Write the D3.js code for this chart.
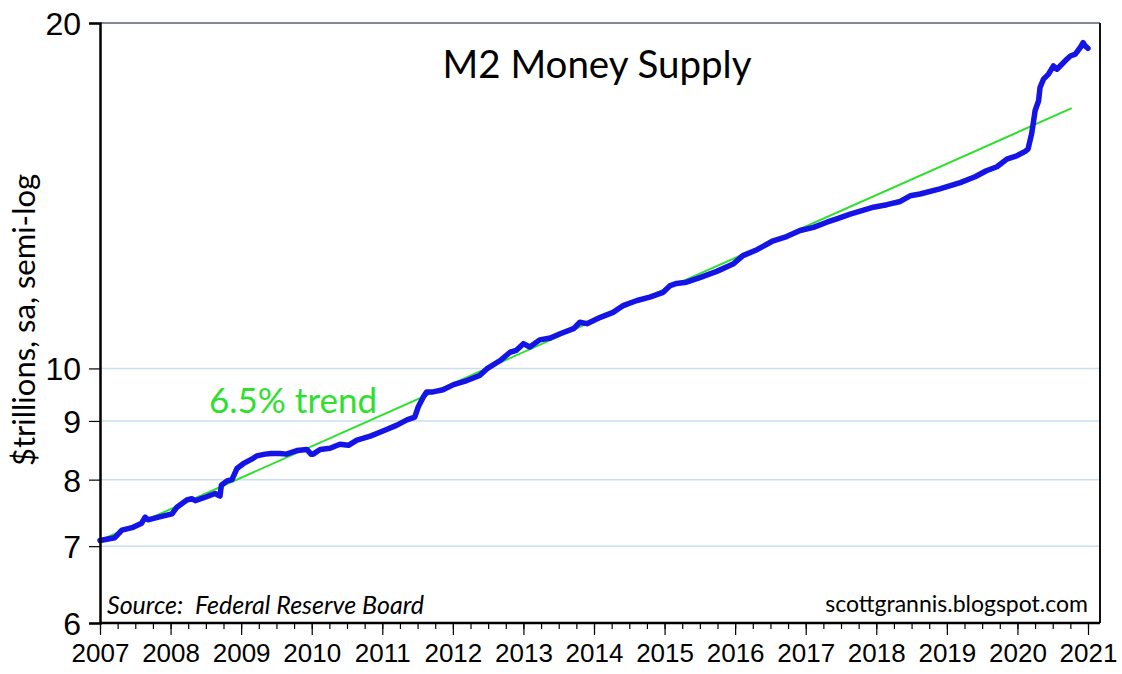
<!DOCTYPE html>
<html lang="en">
<head>
<meta charset="UTF-8">
<title>M2 Money Supply</title>
<script src="https://d3js.org/d3.v7.min.js"></script>
<style>
    body { margin: 0; background: #fff; }
    svg { display: block; font-family: 'Lato', sans-serif; }
    .tick text { fill: #000; }
</style>
</head>
<body>
<svg id="chart" width="1122" height="674"></svg>
<script>
// M2 weekly series ($ trillions)
const m2Years = [2007.00, 2007.21, 2007.31, 2007.47, 2007.59, 2007.64, 2007.68, 2007.83, 2008.02, 2008.09,
    2008.23, 2008.30, 2008.35, 2008.51, 2008.63, 2008.70, 2008.72, 2008.80, 2008.87, 2008.94,
    2009.03, 2009.17, 2009.22, 2009.34, 2009.43, 2009.55, 2009.64, 2009.79, 2009.93, 2009.99,
    2010.02, 2010.12, 2010.26, 2010.40, 2010.52, 2010.64, 2010.83, 2011.01, 2011.20, 2011.35,
    2011.46, 2011.51, 2011.58, 2011.63, 2011.72, 2011.86, 2012.01, 2012.20, 2012.38, 2012.48,
    2012.67, 2012.81, 2012.90, 2013.00, 2013.09, 2013.23, 2013.38, 2013.52, 2013.71, 2013.80,
    2013.90, 2014.09, 2014.27, 2014.42, 2014.61, 2014.79, 2014.98, 2015.08, 2015.17, 2015.31,
    2015.50, 2015.74, 2015.97, 2016.11, 2016.31, 2016.54, 2016.73, 2016.92, 2017.11, 2017.30,
    2017.44, 2017.63, 2017.82, 2017.96, 2018.15, 2018.34, 2018.48, 2018.62, 2018.90, 2019.19,
    2019.40, 2019.56, 2019.71, 2019.85, 2019.99, 2020.11, 2020.15, 2020.20, 2020.23, 2020.25,
    2020.30, 2020.32, 2020.37, 2020.44, 2020.51, 2020.56, 2020.63, 2020.70, 2020.75, 2020.82,
    2020.89, 2020.93, 2020.96, 2021.00];
const m2Values = [7.08, 7.12, 7.23, 7.27, 7.33, 7.42, 7.38, 7.42, 7.47, 7.57,
    7.68, 7.70, 7.67, 7.73, 7.78, 7.74, 7.91, 7.98, 8.00, 8.18,
    8.26, 8.35, 8.39, 8.42, 8.43, 8.43, 8.42, 8.48, 8.50, 8.42,
    8.42, 8.50, 8.52, 8.59, 8.57, 8.66, 8.73, 8.82, 8.92, 9.02,
    9.07, 9.26, 9.44, 9.54, 9.54, 9.58, 9.68, 9.76, 9.86, 9.99,
    10.16, 10.33, 10.37, 10.51, 10.44, 10.59, 10.63, 10.72, 10.83, 10.97,
    10.94, 11.08, 11.19, 11.35, 11.46, 11.54, 11.65, 11.81, 11.86, 11.89,
    12.00, 12.15, 12.33, 12.54, 12.69, 12.92, 13.03, 13.19, 13.27, 13.41,
    13.50, 13.63, 13.74, 13.82, 13.89, 13.98, 14.14, 14.19, 14.34, 14.52,
    14.69, 14.87, 14.99, 15.22, 15.32, 15.46, 15.53, 16.00, 16.44, 16.77,
    17.11, 17.57, 17.87, 18.05, 18.35, 18.23, 18.41, 18.60, 18.72, 18.79,
    19.04, 19.23, 19.10, 19.01];

// 6.5% trend line end points
const trendYears = [2007.00, 2020.77];
const trendValues = [7.08, 16.86];

const yTicks = [6, 7, 8, 9, 10, 20];
const gridTicks = [7, 8, 9, 10];
const xTicks = d3.range(2007, 2022);
const xMinor = d3.range(2007, 2021.01, 0.25);

const svg = d3.select("#chart");
const plotL = 100, plotR = 1100, plotT = 23, plotB = 623;

const x = d3.scaleLinear().domain([2007, 2021.17]).range([plotL, plotR]);
const y = d3.scaleLog().domain([6, 20]).range([plotB, plotT]);

// light blue gridlines
svg.append("g")
    .selectAll("line")
    .data(gridTicks)
    .join("line")
    .attr("x1", plotL).attr("x2", plotR)
    .attr("y1", d => y(d)).attr("y2", d => y(d))
    .attr("stroke", "#c9dff0")
    .attr("stroke-width", 1.5);

// frame top + right
svg.append("line").attr("x1", plotL).attr("x2", plotR).attr("y1", plotT).attr("y2", plotT)
    .attr("stroke", "#7d8a96").attr("stroke-width", 2);
svg.append("line").attr("x1", plotR).attr("x2", plotR).attr("y1", plotT).attr("y2", plotB)
    .attr("stroke", "#111").attr("stroke-width", 2);

// trend
const line = d3.line().x(d => x(d[0])).y(d => y(d[1]));
svg.append("path")
    .datum(d3.zip(trendYears, trendValues))
    .attr("d", line)
    .attr("fill", "none")
    .attr("stroke", "#2ee02e")
    .attr("stroke-width", 2);

// M2
svg.append("path")
    .datum(d3.zip(m2Years, m2Values))
    .attr("d", line)
    .attr("fill", "none")
    .attr("stroke", "#1414e6")
    .attr("stroke-width", 5.5)
    .attr("stroke-linejoin", "round")
    .attr("stroke-linecap", "round");

// y axis
const yAxis = svg.append("g")
    .attr("transform", `translate(${plotL},0)`)
    .call(d3.axisLeft(y).tickValues(yTicks).tickFormat(d3.format("d")).tickSize(11).tickPadding(8));
yAxis.select(".domain").attr("stroke", "#000").attr("stroke-width", 2.5);
yAxis.selectAll(".tick line").attr("stroke", "#000").attr("stroke-width", 1.2);
yAxis.selectAll(".tick text").attr("font-size", 32).attr("dy", "0.36em");

// x axis minor ticks
const xMinorAxis = svg.append("g")
    .attr("transform", `translate(0,${plotB})`)
    .call(d3.axisBottom(x).tickValues(xMinor).tickSize(6).tickFormat(""));
xMinorAxis.select(".domain").remove();
xMinorAxis.selectAll(".tick line").attr("stroke", "#000").attr("stroke-width", 1.2);

// x axis major
const xAxis = svg.append("g")
    .attr("transform", `translate(0,${plotB})`)
    .call(d3.axisBottom(x).tickValues(xTicks).tickFormat(d3.format("d")).tickSize(12).tickPadding(9));
xAxis.select(".domain").attr("stroke", "#000").attr("stroke-width", 2.5)
    .attr("d", `M${plotL},0H${plotR}`);
xAxis.selectAll(".tick line").attr("stroke", "#000").attr("stroke-width", 1.2);
xAxis.selectAll(".tick text").attr("font-size", 26);

// texts
svg.append("text")
    .attr("x", 597).attr("y", 78)
    .attr("text-anchor", "middle")
    .attr("font-size", 38.5)
    .text("M2 Money Supply");

svg.append("text")
    .attr("transform", "translate(35,320) rotate(-90)")
    .attr("text-anchor", "middle")
    .attr("font-size", 31)
    .text("$trillions, sa, semi-log");

svg.append("text")
    .attr("x", 209).attr("y", 413)
    .attr("fill", "#2ee02e")
    .attr("font-size", 35)
    .text("6.5% trend");

svg.append("text")
    .attr("x", 107).attr("y", 614)
    .attr("font-size", 25)
    .attr("font-style", "italic")
    .style("white-space", "pre")
    .text("Source:  Federal Reserve Board");

svg.append("text")
    .attr("x", 1088).attr("y", 612)
    .attr("text-anchor", "end")
    .attr("font-size", 23)
    .text("scottgrannis.blogspot.com");
</script>
</body>
</html>
